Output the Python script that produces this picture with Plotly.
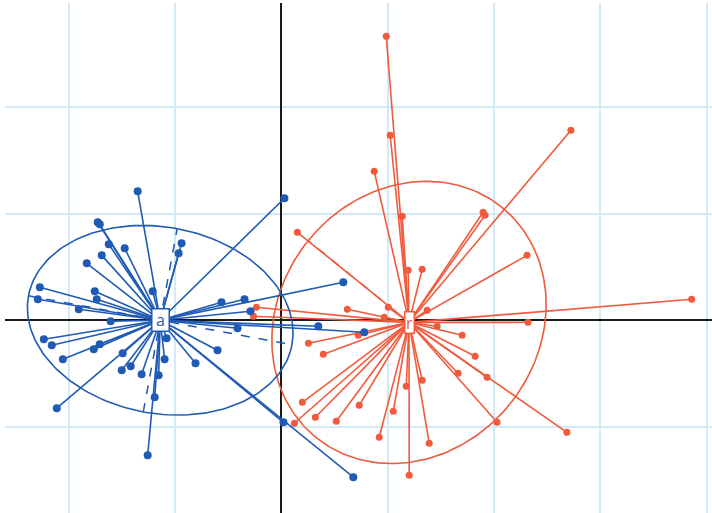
import numpy as np
import plotly.graph_objects as go

# Group "a" (blue): individual scores and class centre
a_x = [-1.352, -1.728, -1.709, -1.624, -1.474, -1.690, -1.831, -0.939, -0.967, -1.211,
       -2.272, -2.291, -1.756, -1.737, -1.906, -1.606, 0.028, -0.563, -0.347, -0.291,
       -0.413, -2.235, -2.160, -1.709, -1.765, -2.056, -1.493, -1.080, -1.099, -0.601,
       -0.808, -1.418, -1.502, -1.315, -1.155, -1.192, -2.113, 0.019, -1.258, 0.676,
       0.582, 0.347, 0.779]
a_y = [1.211, 0.920, 0.901, 0.714, 0.676, 0.610, 0.535, 0.723, 0.629, 0.272,
       0.310, 0.197, 0.272, 0.197, 0.103, -0.009, 1.146, 0.169, 0.197, 0.085,
       -0.075, -0.178, -0.235, -0.225, -0.272, -0.366, -0.310, -0.169, -0.366, -0.282,
       -0.404, -0.432, -0.469, -0.507, -0.516, -0.723, -0.826, -0.958, -1.268, -1.474,
       0.357, -0.056, -0.113]
a_centre = (-1.14, 0.0)
a_ellipse = dict(a=1.26, b=0.875, angle=-10.5)

# Group "r" (red): individual scores and class centre
r_x = [0.986, 1.023, 0.873, 2.723, 1.136, 1.897, 1.915, 0.150, 2.310, 1.192,
       1.324, 3.859, 0.620, 1.005, 0.967, 1.371, 2.319, 1.465, 1.700, 0.254,
       0.723, 0.394, 1.822, 1.662, 1.934, 1.324, 1.174, 1.052, 0.197, 0.732,
       0.319, 0.122, 0.516, 2.028, 2.685, 0.920, 1.390, 1.202, -0.235, -0.263]
r_y = [2.667, 1.737, 1.399, 1.784, 0.977, 1.014, 0.986, 0.826, 0.610, 0.469,
       0.479, 0.197, 0.103, 0.122, 0.028, 0.094, -0.019, -0.056, -0.141, -0.216,
       -0.141, -0.319, -0.338, -0.498, -0.535, -0.563, -0.620, -0.854, -0.770, -0.798,
       -0.911, -0.967, -0.948, -0.958, -1.052, -1.099, -1.155, -1.455, 0.122, 0.038]
r_centre = (1.20, -0.02)
r_ellipse = dict(a=1.39, b=1.22, angle=51.0)

BLUE = "#1f5bb5"
RED = "#f15a3c"
GRID = "#d4e9f7"


def star(xs, ys, centre):
    sx, sy = [], []
    for x, y in zip(xs, ys):
        sx += [centre[0], x, None]
        sy += [centre[1], y, None]
    return sx, sy


def ellipse(centre, a, b, angle, n=200):
    t = np.linspace(0, 2 * np.pi, n)
    th = np.radians(angle)
    ex = centre[0] + a * np.cos(t) * np.cos(th) - b * np.sin(t) * np.sin(th)
    ey = centre[1] + a * np.cos(t) * np.sin(th) + b * np.sin(t) * np.cos(th)
    return ex, ey


def axes_of(centre, a, b, angle):
    th = np.radians(angle)
    ux, uy = np.cos(th), np.sin(th)
    vx, vy = -np.sin(th), np.cos(th)
    cx, cy = centre
    return ([cx - a * ux, cx + a * ux, None, cx - b * vx, cx + b * vx],
            [cy - a * uy, cy + a * uy, None, cy - b * vy, cy + b * vy])


fig = go.Figure()

# (label, x, y, centre, ellipse, colour, marker size, label box w/h)
groups = [
    ("r", r_x, r_y, r_centre, r_ellipse, RED, 7, (6, 18)),
    ("a", a_x, a_y, a_centre, a_ellipse, BLUE, 8, (14, 19)),
]

for name, xs, ys, c, el, col, msize, box in groups:
    sx, sy = star(xs, ys, c)
    fig.add_trace(go.Scatter(x=sx, y=sy, mode="lines",
                             line=dict(color=col, width=1.6), hoverinfo="skip"))
    ex, ey = ellipse(c, **el)
    fig.add_trace(go.Scatter(x=ex, y=ey, mode="lines",
                             line=dict(color=col, width=1.6), hoverinfo="skip"))
    if name == "a":
        dx, dy = axes_of(c, **el)
    else:
        # only the upper-left half of the minor axis stands clear of the star
        th = np.radians(el["angle"])
        dx = [c[0], c[0] - el["b"] * np.sin(th)]
        dy = [c[1], c[1] + el["b"] * np.cos(th)]
    fig.add_trace(go.Scatter(x=dx, y=dy, mode="lines",
                             line=dict(color=col, width=1.5, dash="dash"),
                             hoverinfo="skip"))
    fig.add_trace(go.Scatter(x=xs, y=ys, mode="markers",
                             marker=dict(color=col, size=msize), hoverinfo="skip"))
    fig.add_annotation(x=c[0], y=c[1], text=name, showarrow=False,
                       font=dict(family="Open Sans", size=16, color=col),
                       bgcolor="white", bordercolor=col, borderwidth=1.5,
                       borderpad=1, width=box[0], height=box[1])

fig.update_xaxes(range=[-2.60, 4.05], dtick=1, showgrid=True, gridcolor=GRID,
                 gridwidth=1.5, zeroline=True, zerolinecolor="#1a1a1a",
                 zerolinewidth=2, showticklabels=False, ticks="", showline=False)
fig.update_yaxes(range=[-1.81, 2.98], dtick=1, showgrid=True, gridcolor=GRID,
                 gridwidth=1.5, zeroline=True, zerolinecolor="#1a1a1a",
                 zerolinewidth=2, showticklabels=False, ticks="", showline=False)

fig.update_layout(width=712, height=513, showlegend=False,
                  margin=dict(l=5, r=0, t=3, b=0),
                  plot_bgcolor="white", paper_bgcolor="white")

fig.write_html("out.html")
